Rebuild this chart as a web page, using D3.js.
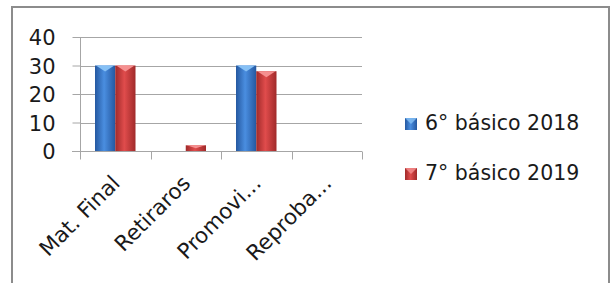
<!DOCTYPE html>
<html>
<head>
<meta charset="utf-8">
<script src="https://cdn.jsdelivr.net/npm/d3@7"></script>
<style>
  body { margin: 0; background: #fff; }
  svg text { font-family: "DejaVu Sans", sans-serif; fill: #1a1a1a; }
</style>
</head>
<body>
<div id="chart"></div>
<script>
// chart data
var categories = ["Mat. Final", "Retiraros", "Promovi...", "Reproba..."];
var seriesNames = ["6° básico 2018", "7° básico 2019"];
var values2018 = [30, 0, 30, 0];
var values2019 = [30, 2, 28, 0];
var yTicks = [0, 10, 20, 30, 40];

var width = 613, height = 283;
var plot = { left: 80, right: 362, top: 37, bottom: 151 };

var svg = d3.select("#chart").append("svg")
    .attr("width", width)
    .attr("height", height);

//Gradients for the bevelled bars
var defs = svg.append("defs");
var palettes = [
    { id: "gBlue", edge: "#2558a0", mid: "#4a8ee0", top: "#86c0f5" },
    { id: "gRed", edge: "#a02a2a", mid: "#e04c4c", top: "#f59090" }
];
palettes.forEach(function(p){
    var g = defs.append("linearGradient").attr("id", p.id)
        .attr("x1", "0%").attr("x2", "100%").attr("y1", "0%").attr("y2", "0%");
    g.append("stop").attr("offset", "0%").attr("stop-color", p.edge);
    g.append("stop").attr("offset", "45%").attr("stop-color", p.mid);
    g.append("stop").attr("offset", "100%").attr("stop-color", p.edge);
});

//Outer frame
svg.append("rect")
    .attr("x", 12).attr("y", 7)
    .attr("width", 597).attr("height", 290)
    .attr("fill", "none")
    .attr("stroke", "#8c8c8c")
    .attr("stroke-width", 2);

var x0 = d3.scaleBand().domain(categories).range([plot.left, plot.right]);
var x1 = d3.scaleBand().domain(seriesNames)
    .range([15, x0.bandwidth() - 15]);
var y = d3.scaleLinear().domain([0, 40]).range([plot.bottom, plot.top]);

//Gridlines
svg.append("g").selectAll("line")
    .data(yTicks.filter(function(d){ return d > 0; }))
    .enter().append("line")
    .attr("x1", plot.left).attr("x2", plot.right)
    .attr("y1", function(d){ return Math.round(y(d)) + 0.5; })
    .attr("y2", function(d){ return Math.round(y(d)) + 0.5; })
    .attr("stroke", "#a6a6a6");

//Y axis
var yAxis = svg.append("g")
    .attr("transform", "translate(" + (plot.left + 0.5) + ",0)")
    .call(d3.axisLeft(y).tickValues(yTicks).tickSize(8).tickPadding(17));
yAxis.select(".domain").attr("stroke", "#a6a6a6").attr("d", "M0," + plot.bottom + "V" + plot.top);
yAxis.selectAll(".tick line").attr("stroke", "#a6a6a6");
yAxis.selectAll(".tick text")
    .attr("font-size", 21)
    .attr("dy", "0.36em")
    .style("font-family", "'DejaVu Sans', sans-serif");

//X axis
var xAxis = svg.append("g")
    .attr("transform", "translate(0," + (Math.round(plot.bottom) + 0.5) + ")");
xAxis.append("line")
    .attr("x1", plot.left - 8).attr("x2", plot.right)
    .attr("stroke", "#a6a6a6");
var edges = categories.map(function(c){ return x0(c); }).concat([plot.right]);
xAxis.selectAll("line.tk").data(edges).enter().append("line")
    .attr("class", "tk")
    .attr("x1", function(d){ return Math.round(d) + 0.5; })
    .attr("x2", function(d){ return Math.round(d) + 0.5; })
    .attr("y1", 0).attr("y2", 8)
    .attr("stroke", "#a6a6a6");
xAxis.selectAll("text").data(categories).enter().append("text")
    .attr("font-size", 21.5)
    .attr("text-anchor", "end")
    .attr("transform", function(d){
        return "translate(" + (x0(d) + x0.bandwidth() / 2 + 6) + ",33) rotate(-45)";
    })
    .text(function(d){ return d; });

//Bars
var series = [values2018, values2019];
series.forEach(function(vals, si){
    var p = palettes[si];
    var g = svg.append("g");
    categories.forEach(function(c, i){
        var v = vals[i];
        if( v <= 0 ){ return; }
        var bx = x0(c) + x1(seriesNames[si]);
        var bw = x1.bandwidth();
        var top = y(v);
        g.append("rect")
            .attr("x", bx).attr("y", top)
            .attr("width", bw).attr("height", plot.bottom - top)
            .attr("fill", "url(#" + p.id + ")");
        var tri = Math.min(6, (plot.bottom - top) / 2);
        g.append("polygon")
            .attr("points", [[bx + 1, top], [bx + bw - 1, top], [bx + bw / 2, top + tri]].join(" "))
            .attr("fill", p.top);
    });
});

//Legend
var legend = svg.append("g").attr("transform", "translate(405,0)");
seriesNames.forEach(function(name, i){
    var base = 130 + i * 50;
    legend.append("rect")
        .attr("x", 0).attr("y", base - 12)
        .attr("width", 12).attr("height", 12)
        .attr("fill", "url(#" + palettes[i].id + ")");
    legend.append("polygon")
        .attr("points", [[0, base - 12], [12, base - 12], [6, base - 6]].join(" "))
        .attr("fill", palettes[i].top)
        .attr("opacity", 0.8);
    legend.append("text")
        .attr("x", 20).attr("y", base)
        .attr("font-size", 20.5)
        .text(name);
});
</script>
</body>
</html>
